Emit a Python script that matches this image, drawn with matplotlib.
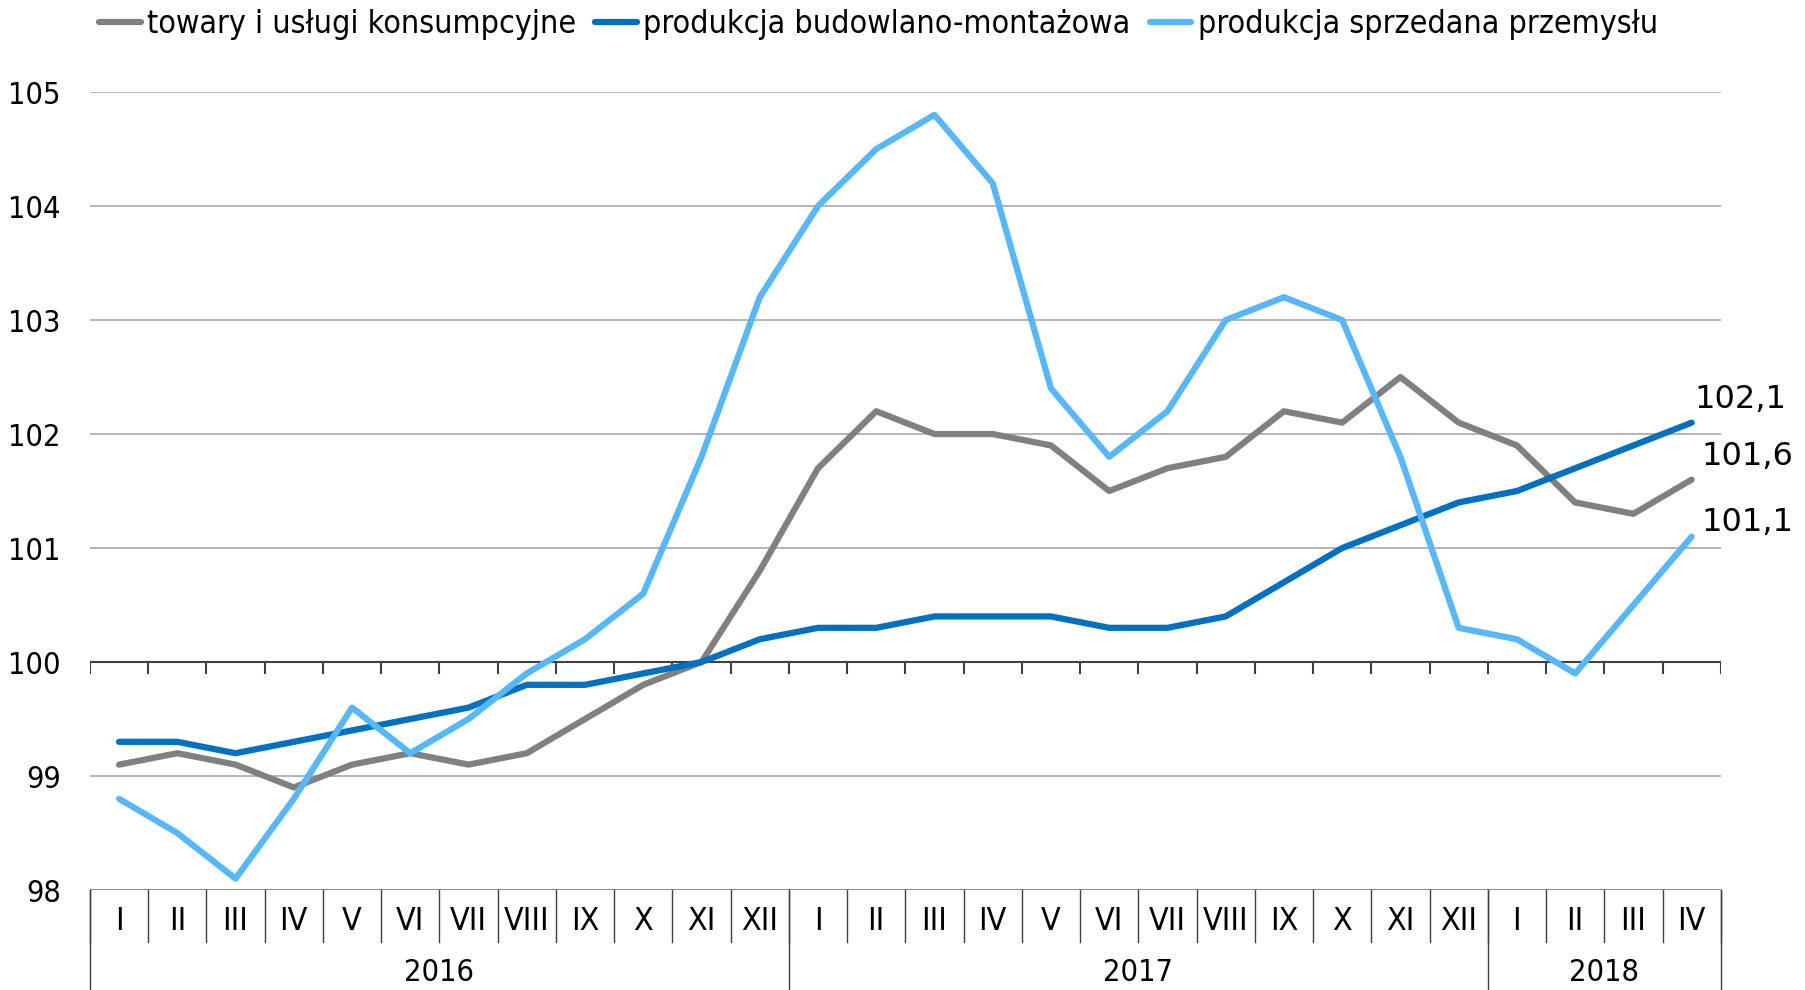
import matplotlib
matplotlib.use('Agg')
import matplotlib.pyplot as plt
import matplotlib.transforms as mtransforms

# Data: indices, monthly 2016-I .. 2018-IV
months = ['I', 'II', 'III', 'IV', 'V', 'VI', 'VII', 'VIII', 'IX', 'X', 'XI', 'XII',
          'I', 'II', 'III', 'IV', 'V', 'VI', 'VII', 'VIII', 'IX', 'X', 'XI', 'XII',
          'I', 'II', 'III', 'IV']
years = ['2016', '2017', '2018']
year_lengths = [12, 12, 4]

consumer = [99.1, 99.2, 99.1, 98.9, 99.1, 99.2, 99.1, 99.2, 99.5, 99.8, 100.0, 100.8,
            101.7, 102.2, 102.0, 102.0, 101.9, 101.5, 101.7, 101.8, 102.2, 102.1, 102.5, 102.1,
            101.9, 101.4, 101.3, 101.6]
construction = [99.3, 99.3, 99.2, 99.3, 99.4, 99.5, 99.6, 99.8, 99.8, 99.9, 100.0, 100.2,
                100.3, 100.3, 100.4, 100.4, 100.4, 100.3, 100.3, 100.4, 100.7, 101.0, 101.2, 101.4,
                101.5, 101.7, 101.9, 102.1]
industry = [98.8, 98.5, 98.1, 98.8, 99.6, 99.2, 99.5, 99.9, 100.2, 100.6, 101.8, 103.2,
            104.0, 104.5, 104.8, 104.2, 102.4, 101.8, 102.2, 103.0, 103.2, 103.0, 101.8, 100.3,
            100.2, 99.9, 100.5, 101.1]

series_names = ['towary i usługi konsumpcyjne', 'produkcja budowlano-montażowa',
                'produkcja sprzedana przemysłu']
colors = ['#808080', '#0070C0', '#55B8FA']

plt.rcParams['font.family'] = ['DejaVu Sans']
cond = dict(family='DejaVu Sans', stretch='condensed')

fig = plt.figure(figsize=(18.06, 9.9), dpi=100)
ax = fig.add_axes([0.0498, 0.101, 0.903, 0.806])

x = list(range(len(months)))
for vals, name, c in zip([consumer, construction, industry], series_names, colors):
    ax.plot(x, vals, color=c, lw=4.5, label=name, solid_capstyle='round',
            solid_joinstyle='round', zorder=3)

ax.set_xlim(-0.5, len(months) - 0.5)
ax.set_ylim(98, 105)
ax.set_yticks(range(98, 106))
ax.set_yticklabels([str(v) for v in range(98, 106)], fontsize=22, **cond)
ax.tick_params(axis='y', length=0, pad=21)
ax.set_xticks([])
for s in ax.spines.values():
    s.set_visible(False)
ax.grid(axis='y', color='#a8a8a8', lw=1.2)
ax.set_axisbelow(True)
ax.axhline(100, color='#404040', lw=1.5, zorder=2)
ax.axhline(98, color='#909090', lw=1.5, zorder=2)

# little ticks under the 100 line
for b in range(len(months) + 1):
    ax.plot([b - 0.5, b - 0.5], [100, 99.9], color='#404040', lw=1.5, zorder=2)

# category axis: months and years below the plot
trans = mtransforms.blended_transform_factory(ax.transData, ax.transAxes)
for i, m in enumerate(months):
    ax.text(i, -0.039, m, transform=trans, ha='center', va='center', fontsize=23, **cond)
for b in range(len(months) + 1):
    ax.plot([b - 0.5, b - 0.5], [0, -0.065], transform=trans, color='#404040', lw=1,
            clip_on=False)
start = 0
for yr, n in zip(years, year_lengths):
    ax.text(start + n / 2 - 0.5, -0.104, yr, transform=trans, ha='center', va='center',
            fontsize=22, **cond)
    ax.plot([start - 0.5, start - 0.5], [0, -0.125], transform=trans, color='#404040', lw=1,
            clip_on=False)
    start += n
ax.plot([start - 0.5, start - 0.5], [0, -0.125], transform=trans, color='#404040', lw=1,
        clip_on=False)

# end labels
ax.annotate('102,1', (x[-1], construction[-1]), xytext=(2, 17), textcoords='offset points',
            fontsize=23, ha='left', va='center')
ax.annotate('101,6', (x[-1], consumer[-1]), xytext=(7, 17), textcoords='offset points',
            fontsize=23, ha='left', va='center')
ax.annotate('101,1', (x[-1], industry[-1]), xytext=(7, 10), textcoords='offset points',
            fontsize=23, ha='left', va='center')

leg = fig.legend(loc='upper left', bbox_to_anchor=(0.039, 1.02), ncol=3, frameon=False,
                 prop=dict(family='DejaVu Sans', stretch='condensed', size=23),
                 handlelength=1.3, handletextpad=0.2, columnspacing=0.6)

fig.savefig('out.png', dpi=100)
